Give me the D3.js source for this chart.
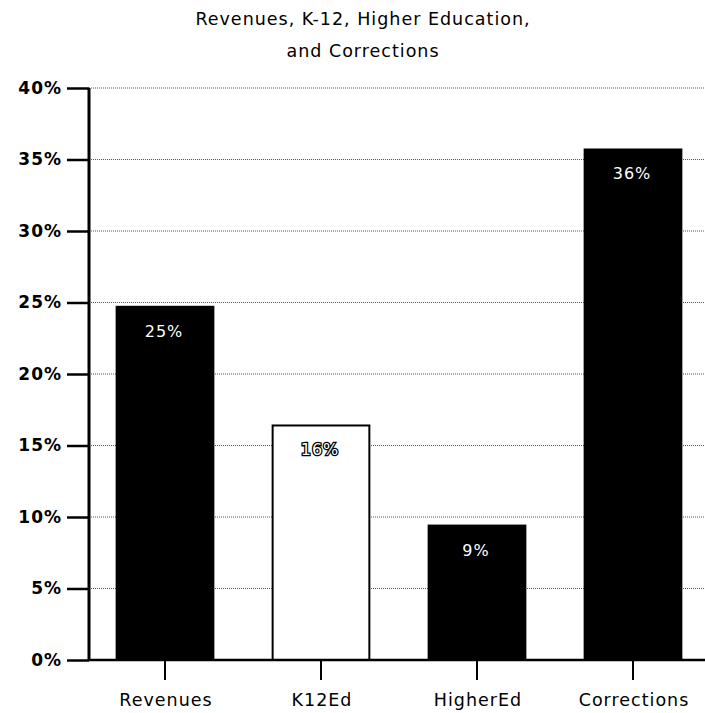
<!DOCTYPE html>
<html>
<head>
<meta charset="utf-8">
<script src="https://d3js.org/d3.v7.min.js"></script>
<style>
  body { margin: 0; background: #fff; }
  text { font-family: "DejaVu Sans", Verdana, sans-serif; }
</style>
</head>
<body>
<svg width="705" height="713"></svg>
<script>
  // data
  var categories = ["Revenues", "K12Ed", "HigherEd", "Corrections"];
  var values = [24.7, 16.4, 9.4, 35.7];
  var valueLabels = ["25%", "16%", "9%", "36%"];
  var barFills = ["#000", "#fff", "#000", "#000"];
  var yTicks = [0, 5, 10, 15, 20, 25, 30, 35, 40];
  var titleLines = ["Revenues, K-12, Higher Education,", "and Corrections"];

  var svg = d3.select("svg");
  var plotLeft = 89, plotTop = 88, plotBottom = 660;

  var x = d3.scaleBand().domain(categories).range([87, 711]).paddingInner(0.38).paddingOuter(0.19);
  var y = d3.scaleLinear().domain([0, 40]).range([plotBottom, plotTop]);

  // title
  svg.selectAll(".title").data(titleLines).enter().append("text")
    .attr("class", "title")
    .attr("x", 363).attr("y", function (d, i) { return 25 + i * 32; })
    .attr("text-anchor", "middle")
    .style("font-size", "17.5px")
    .style("letter-spacing", "1px")
    .text(function (d) { return d; });

  // gridlines
  svg.append("g").selectAll("line").data(yTicks.filter(function (d) { return d > 0; }))
    .enter().append("line")
    .attr("x1", plotLeft).attr("x2", 705)
    .attr("y1", function (d) { return y(d); }).attr("y2", function (d) { return y(d); })
    .attr("stroke", "#555").attr("stroke-width", 1).attr("stroke-dasharray", "1,1");

  // bars
  svg.append("g").selectAll("rect").data(values).enter().append("rect")
    .attr("x", function (d, i) { return x(categories[i]); })
    .attr("y", function (d) { return y(d); })
    .attr("width", x.bandwidth())
    .attr("height", function (d) { return plotBottom - y(d); })
    .attr("fill", function (d, i) { return barFills[i]; })
    .attr("stroke", "#000").attr("stroke-width", 2);

  // value labels
  svg.append("g").selectAll("text").data(values).enter().append("text")
    .attr("x", function (d, i) { return x(categories[i]) + x.bandwidth() / 2 - 1; })
    .attr("y", function (d) { return y(d) + 30; })
    .attr("text-anchor", "middle")
    .style("font-size", "16px")
    .style("letter-spacing", "1px")
    .attr("fill", "#fff")
    .attr("stroke", function (d, i) { return barFills[i] === "#fff" ? "#000" : "none"; })
    .attr("stroke-width", 2.5)
    .attr("paint-order", "stroke")
    .text(function (d, i) { return valueLabels[i]; });

  // y axis
  var yAxis = d3.axisLeft(y).tickValues(yTicks).tickSize(22).tickPadding(5)
    .tickFormat(function (d) { return d + "%"; });
  var gy = svg.append("g").attr("transform", "translate(" + plotLeft + ",0)").call(yAxis);
  gy.select(".domain").remove();
  gy.selectAll(".tick line").attr("stroke", "#000").attr("stroke-width", 2.5);
  gy.selectAll(".tick text").attr("fill", "#000").style("font-size", "17px").style("font-weight", "bold")
    .style("letter-spacing", "1px").style("font-family", "DejaVu Sans, sans-serif");
  svg.append("line").attr("x1", plotLeft).attr("x2", plotLeft).attr("y1", plotTop).attr("y2", plotBottom + 1)
    .attr("stroke", "#000").attr("stroke-width", 3);

  // x axis
  var xAxis = d3.axisBottom(x).tickSize(20).tickPadding(14);
  var gx = svg.append("g").attr("transform", "translate(0," + plotBottom + ")").call(xAxis);
  gx.select(".domain").attr("d", "M" + plotLeft + ",0H705").attr("stroke", "#000").attr("stroke-width", 2.5);
  gx.selectAll(".tick line").attr("stroke", "#000").attr("stroke-width", 2);
  gx.selectAll(".tick text").attr("fill", "#000").style("font-size", "17.5px")
    .attr("dx", "1")
    .style("letter-spacing", "1px").style("font-family", "DejaVu Sans, sans-serif");
</script>
</body>
</html>
